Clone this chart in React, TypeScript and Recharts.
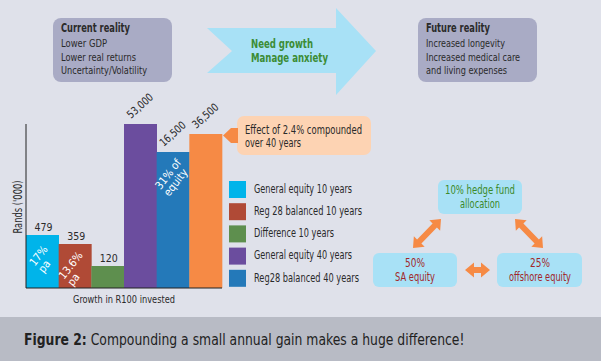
import React from 'react';
import { BarChart, Bar, XAxis, YAxis, Cell, LabelList, Legend, Label } from 'recharts';

const FONT = '"DejaVu Sans Condensed", "Open Sans", sans-serif';

// six bars; the original is not drawn to scale, so heights are read as drawn
const categories = [
  'General equity 10 years',
  'Reg 28 balanced 10 years',
  'Difference 10 years',
  'General equity 40 years',
  'Reg28 balanced 40 years',
  'Effect of 2.4% compounded',
];
const drawnHeights = [53, 44, 22, 164, 136, 154];
const valueLabels = ['479', '359', '120', '53,000', '16,500', '36,500'];
const innerNotes = [['17%', 'pa'], ['13.6%', 'pa'], [], [], ['31% of', 'equity'], []];
const barColors = ['#00b4ea', '#b04a36', '#5e8f4e', '#6b4d9e', '#2479b9', '#f68a45'];
const legendItems = categories.slice(0, 5);

const currentReality = ['Lower GDP', 'Lower real returns', 'Uncertainty/Volatility'];
const futureReality = ['Increased longevity', 'Increased medical care', 'and living expenses'];

const data = categories.map((name, i) => ({ name, height: drawnHeights[i] }));

// squeezed text, the source uses a condensed face
const T = ({ w, size = 11, children, ...rest }: any) => (
  <text fontSize={size} fontFamily={FONT} fill="#2a2a2a" textLength={w} lengthAdjust="spacingAndGlyphs" {...rest}>
    {children}
  </text>
);

// double headed arrow polygon between two points
const doubleArrow = (x1: number, y1: number, x2: number, y2: number) => {
  const len = Math.hypot(x2 - x1, y2 - y1);
  const ux = (x2 - x1) / len, uy = (y2 - y1) / len;
  const nx = -uy, ny = ux;
  const hl = 9, hw = 7.5, sw = 3;
  const p = (d: number, w: number) => `${x1 + ux * d + nx * w},${y1 + uy * d + ny * w}`;
  return [p(0, 0), p(hl, hw), p(hl, sw), p(len - hl, sw), p(len - hl, hw), p(len, 0),
    p(len - hl, -hw), p(len - hl, -sw), p(hl, -sw), p(hl, -hw)].join(' ');
};

const ValueLabel = (props: any) => {
  const { x, y, width, index } = props;
  const txt = valueLabels[index];
  if (index < 3) {
    return <T x={x + width / 2 + 1} y={y - 4} textAnchor="middle" size={11} w={18}>{txt}</T>;
  }
  const ax = x + 7, ay = y - 5;
  return <T x={ax} y={ay} size={11} w={31} transform={`rotate(-42 ${ax} ${ay})`}>{txt}</T>;
};

// two rotated lines, left aligned, block centred near the top of the bar
const InnerNote = (props: any) => {
  const { x, y, width, index } = props;
  const lines = innerNotes[index];
  if (!lines || !lines.length) return null;
  const ang = -52;
  const cx = x + width / 2 - 2;
  const cy = y + 26;
  const longest = Math.max(...lines.map((l) => l.length)) * 5.4;
  const sx = cx - longest / 2;
  return (
    <g transform={`rotate(${ang} ${cx} ${cy})`}>
      <text x={sx} y={cy - 1} fontSize={11} fontFamily={FONT} fill="#fff">{lines[0]}</text>
      <text x={sx} y={cy + 10} fontSize={11} fontFamily={FONT} fill="#fff">{lines[1]}</text>
    </g>
  );
};

const legendWidths = [98, 108, 80, 98, 105];

const LegendBox = () => (
  <svg width={170} height={112}>
    {legendItems.map((item, i) => (
      <g key={item}>
        <rect x={0} y={i * 22.2} width={17} height={17} fill={barColors[i]} />
        <T x={25} y={i * 22.2 + 11.8} size={11.5} w={legendWidths[i]}>{item}</T>
      </g>
    ))}
  </svg>
);

const RealityBox = ({ x, title, titleW, lines, widths }: { x: number; title: string; titleW: number; lines: string[]; widths: number[] }) => (
  <g>
    <rect x={x} y={18} width={119} height={64} rx={8} fill="#a9abc5" />
    <T x={x + 8} y={32} size={11.5} fontWeight="bold" w={titleW}>{title}</T>
    {lines.map((l, i) => (
      <T key={l} x={x + 8} y={47 + i * 13.5} size={11} w={widths[i]}>{l}</T>
    ))}
  </g>
);

const Decorations = () => (
  <svg width={601} height={361} style={{ position: 'absolute', left: 0, top: 0 }}>
    <rect x={0} y={0} width={601} height={361} fill="#dfe1ea" />
    <rect x={0} y={317} width={601} height={44} fill="#b8bbc5" />
    <RealityBox x={53} title="Current reality" titleW={69} lines={currentReality} widths={[46, 75, 86]} />
    <RealityBox x={418} title="Future reality" titleW={64} lines={futureReality} widths={[79, 94, 81]} />
    <polygon points="207,28 336,28 336,8 376,51 336,95 336,73 207,73 232,51" fill="#a8e1f6" />
    <T x={251} y={48} size={12.5} fontWeight="bold" fill="#3b8c34" w={62}>Need growth</T>
    <T x={251} y={62} size={12.5} fontWeight="bold" fill="#3b8c34" w={77}>Manage anxiety</T>

    <rect x={237} y={116} width={134} height={39} rx={7} fill="#fdd3b3" />
    <polygon points="223,135.5 231,128 238,128 238,143 231,143" fill="#f68a45" />
    <T x={245} y={133.5} size={12} w={117}>Effect of 2.4% compounded</T>
    <T x={245} y={146.5} size={12} w={56}>over 40 years</T>

    <rect x={438} y={180} width={84} height={34} rx={6} fill="#a8e1f6" />
    <T x={480} y={194} textAnchor="middle" size={11.5} fill="#3b8a2a" w={70}>10% hedge fund</T>
    <T x={480} y={208} textAnchor="middle" size={11.5} fill="#3b8a2a" w={40}>allocation</T>
    <rect x={373} y={253} width={84} height={34} rx={6} fill="#a8e1f6" />
    <T x={415} y={267} textAnchor="middle" size={11.5} fill="#a2282a" w={20}>50%</T>
    <T x={415} y={281} textAnchor="middle" size={11.5} fill="#a2282a" w={40}>SA equity</T>
    <rect x={497} y={253} width={85} height={34} rx={6} fill="#a8e1f6" />
    <T x={540} y={267} textAnchor="middle" size={11.5} fill="#a2282a" w={20}>25%</T>
    <T x={540} y={281} textAnchor="middle" size={11.5} fill="#a2282a" w={62}>offshore equity</T>
    <polygon points={doubleArrow(413, 248, 441, 219)} fill="#f68a45" />
    <polygon points={doubleArrow(515, 219, 543, 248)} fill="#f68a45" />
    <polygon points={doubleArrow(465, 270, 490, 270)} fill="#f68a45" />

    {/* caption squeezed as a whole so bold and regular parts flow together */}
    <g transform="translate(24 345) scale(0.835 1)">
      <text x={0} y={0} fontSize={16.5} fontFamily={FONT} fill="#222">
        <tspan fontWeight="bold">Figure 2:</tspan> Compounding a small annual gain makes a huge difference!
      </text>
    </g>
  </svg>
);

const XLabel = (props: any) => {
  const { x, y, width } = props.viewBox;
  return <T x={x + width / 2} y={y + 15} textAnchor="middle" size={11} w={102}>Growth in R100 invested</T>;
};

const YLabel = (props: any) => {
  const { y, height } = props.viewBox;
  const cx = 21.5, cy = y + height / 2 + 1;
  return <T x={cx} y={cy} textAnchor="middle" size={11.5} w={53} transform={`rotate(-90 ${cx} ${cy})`}>Rands ('000)</T>;
};

const App: React.FC = () => (
  <div style={{ position: 'absolute', left: 0, top: 0, width: 601, height: 361, overflow: 'hidden' }}>
    <Decorations />
    <div style={{ position: 'absolute', left: 0, top: 0 }}>
      <BarChart width={601} height={361} data={data} barCategoryGap={0}
        margin={{ top: 124, right: 379, bottom: 53, left: 8 }}>
        <XAxis dataKey="name" height={20} tick={false} tickLine={false} axisLine={{ stroke: '#222' }}>
          <Label content={<XLabel />} />
        </XAxis>
        <YAxis domain={[0, 164]} width={18} tick={false} tickLine={false} axisLine={{ stroke: '#222' }}>
          <Label content={<YLabel />} />
        </YAxis>
        <Legend layout="vertical" align="center" verticalAlign="middle" content={() => <LegendBox />}
          wrapperStyle={{ left: 229, top: 181, width: 170 }} />
        <Bar dataKey="height" isAnimationActive={false}>
          {data.map((_d, i) => (
            <Cell key={`c-${i}`} fill={barColors[i]} />
          ))}
          <LabelList dataKey="height" content={<ValueLabel />} />
          <LabelList dataKey="height" content={<InnerNote />} />
        </Bar>
      </BarChart>
    </div>
  </div>
);

export default App;
